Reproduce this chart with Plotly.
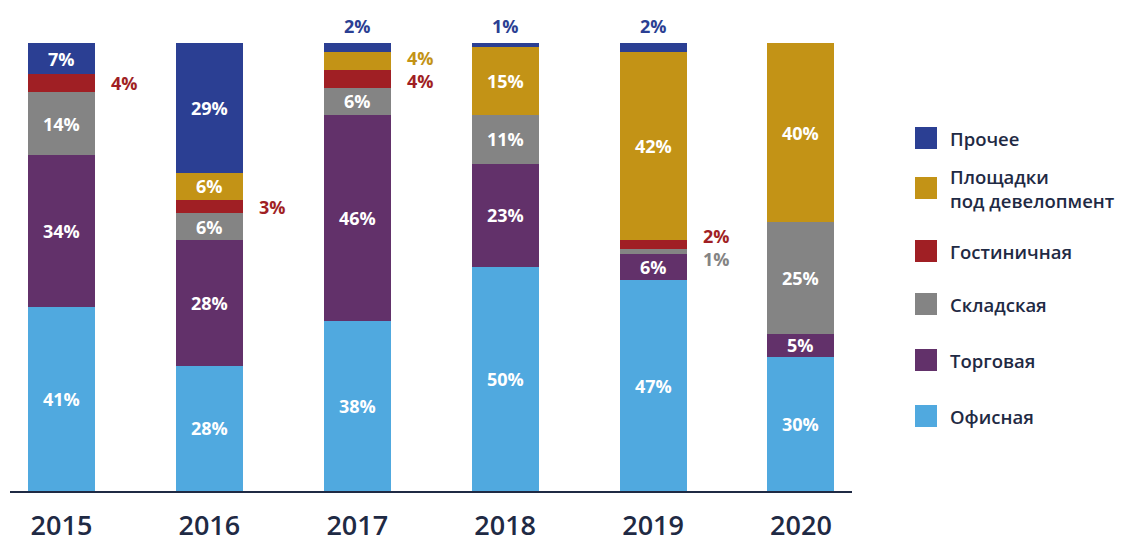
import plotly.graph_objects as go

years = ["2015", "2016", "2017", "2018", "2019", "2020"]
# stacked bottom -> top
series_names = ["Офисная", "Торговая", "Складская", "Гостиничная",
                "Площадки<br>под девелопмент", "Прочее"]
office = [41, 28, 38, 50, 47, 30]
retail = [34, 28, 46, 23, 6, 5]
warehouse = [14, 6, 6, 11, 1, 25]
hotel = [4, 3, 4, 0, 2, 0]
land = [0, 6, 4, 15, 42, 40]
other = [7, 29, 2, 1, 2, 0]
series_values = [office, retail, warehouse, hotel, land, other]
colors = ["#50A9DF", "#62316A", "#848484", "#A01F24", "#C39316", "#2B3F93"]

W, H = 1122, 543
PX_L, PX_R = 10, 852
PY_B, PY_T = 491, 43
XR = [-0.348, 5.345]
BARW = 0.453
TEXT = "#1F2A44"
FONT = "Open Sans"
LBL = 18

fig = go.Figure()
for name, vals, col in zip(series_names, series_values, colors):
    fig.add_trace(go.Bar(x=list(range(len(years))), y=vals, name=name,
                         marker=dict(color=col, line=dict(width=0)),
                         width=BARW, hoverinfo="skip", showlegend=False))

ann = []
for i in range(len(years)):
    base = 0
    outside = []
    for k, (name, vals, col) in enumerate(zip(series_names, series_values, colors)):
        v = vals[i]
        mid = base + v / 2
        base = base + v
        if v == 0:
            continue
        if v >= 5:
            ann.append(dict(x=i, y=mid, text=f"<b>{v}%</b>", showarrow=False,
                            font=dict(color="white", size=LBL, family=FONT)))
        elif k == len(series_names) - 1:
            ann.append(dict(x=i, y=100, text=f"<b>{v}%</b>", showarrow=False,
                            yanchor="bottom", yshift=3,
                            font=dict(color=col, size=LBL, family=FONT)))
        else:
            outside.append((mid, v, col))
    if outside:
        # labels that sit next to the bar, top-most first, in one block
        outside.sort(key=lambda o: -o[0])
        ymid = sum(o[0] for o in outside) / len(outside)
        txt = "<br>".join(f"<span style='color:{c}'><b>{v}%</b></span>"
                          for _, v, c in outside)
        ann.append(dict(x=i + BARW / 2, y=ymid, text=txt, showarrow=False,
                        xanchor="left", xshift=14, align="left",
                        font=dict(size=LBL, family=FONT, color=outside[0][2])))

# manual legend (top -> bottom)
leg_y = [138, 188, 251, 304, 360, 416]
leg_order = list(range(len(series_names)))[::-1]
shapes = []
for yy, k in zip(leg_y, leg_order):
    shapes.append(dict(type="rect", xref="paper", yref="paper",
                       x0=915 / W, x1=937 / W,
                       y0=1 - (yy + 11) / H, y1=1 - (yy - 11) / H,
                       fillcolor=colors[k], line=dict(width=0)))
    ann.append(dict(xref="paper", yref="paper", x=948 / W, y=1 - yy / H,
                    text=series_names[k], showarrow=False, xanchor="left",
                    yanchor="middle", align="left",
                    font=dict(color=TEXT, size=18.5, family=FONT, weight=600)))

fig.update_layout(
    barmode="stack", width=W, height=H,
    margin=dict(l=0, r=0, t=0, b=0, autoexpand=False),
    paper_bgcolor="white", plot_bgcolor="white",
    bargap=0,
    xaxis=dict(domain=[PX_L / W, PX_R / W], range=XR, automargin=False,
               tickmode="array", tickvals=list(range(len(years))), ticktext=years,
               tickfont=dict(size=27, color=TEXT, family=FONT, weight=600),
               showline=True, linecolor=TEXT, linewidth=2, showgrid=False,
               zeroline=False, ticks="", ticklabelstandoff=10, fixedrange=True),
    yaxis=dict(domain=[(H - PY_B) / H, (H - PY_T) / H], range=[0, 100],
               automargin=False,
               visible=False, showgrid=False, zeroline=False, fixedrange=True),
    annotations=ann, shapes=shapes, showlegend=False,
)

fig.write_html("out.html", config={"displayModeBar": False})
